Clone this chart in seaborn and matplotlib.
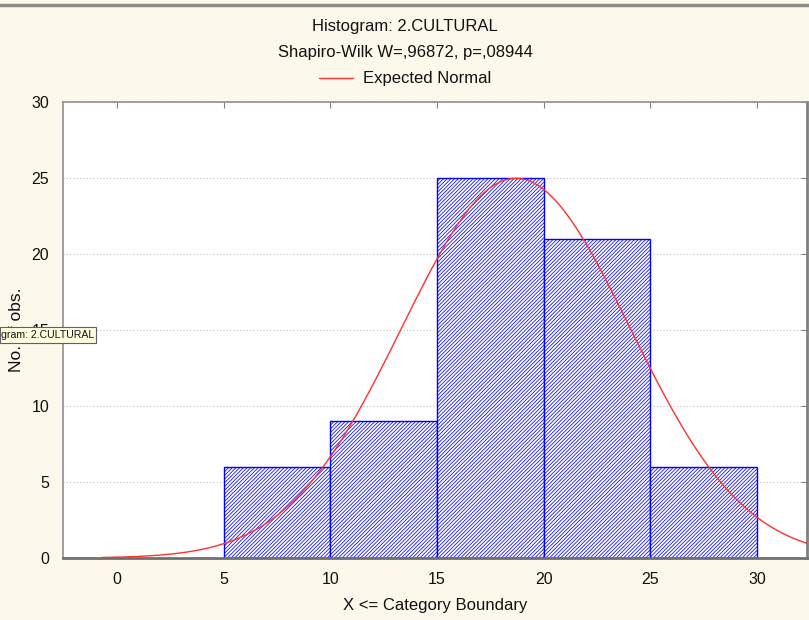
import numpy as np
import pandas as pd
import matplotlib
matplotlib.use("Agg")
import matplotlib.pyplot as plt
import seaborn as sns
from matplotlib.patches import Rectangle
from matplotlib.lines import Line2D

# ---- data ----
bin_edges = [5, 10, 15, 20, 25, 30]
counts = [6, 9, 25, 21, 6]
x_ticks = [0, 5, 10, 15, 20, 25, 30]
y_ticks = [0, 5, 10, 15, 20, 25, 30]
normal_mean = 18.7
normal_sd = 5.35
curve_start = -0.7
title_line1 = "Histogram: 2.CULTURAL"
title_line2 = "Shapiro-Wilk W=,96872, p=,08944"
legend_label = "Expected Normal"
x_label = "X <= Category Boundary"
y_label = "No. of obs."
tooltip_text = "gram: 2.CULTURAL"

# ---- style ----
sns.set_style("white")
plt.rcParams["font.family"] = ["Liberation Sans", "DejaVu Sans"]
plt.rcParams["hatch.linewidth"] = 0.55
plt.rcParams["hatch.color"] = "#2020FF"

W, H = 809, 620
BG = "#FDF8EC"
fig = plt.figure(figsize=(W / 100, H / 100), dpi=100, facecolor=BG)
ax = fig.add_axes([63 / W, 1 - 558 / H, (807 - 63) / W, (558 - 102) / H])
ax.set_facecolor("white")

centers = [(a + b) / 2 for a, b in zip(bin_edges[:-1], bin_edges[1:])]
df = pd.DataFrame({"x": centers, "count": counts})
sns.histplot(data=df, x="x", weights="count", bins=bin_edges, ax=ax,
             color="white", edgecolor="#0000FF", linewidth=1.0, alpha=1,
             zorder=2)
for p in ax.patches:
    p.set_facecolor("white")
    p.set_edgecolor("#0000FF")
    p.set_hatch("/////////")

# expected normal curve
n_total = sum(counts)
bw = bin_edges[1] - bin_edges[0]
xs = np.linspace(curve_start, 33, 400)
ys = n_total * bw / (normal_sd * np.sqrt(2 * np.pi)) * np.exp(-0.5 * ((xs - normal_mean) / normal_sd) ** 2)
sns.lineplot(x=xs, y=ys, ax=ax, color="#FF3030", linewidth=1.0, label=legend_label, zorder=3)

ax.set_xlim(-2.53, 32.35)
ax.set_ylim(0, 30)
ax.set_xticks(x_ticks)
ax.set_yticks(y_ticks)
ax.tick_params(axis="both", labelsize=11.5, direction="in",
               length=4, top=True, right=True, pad=10,
               colors="#808080", labelcolor="#111111")
ax.yaxis.grid(True, linestyle=(0, (1, 2)), color="#C0C0C0", linewidth=0.8)
ax.xaxis.grid(False)
ax.set_axisbelow(True)
for s in ["left", "top"]:
    ax.spines[s].set_color("#909090")
    ax.spines[s].set_linewidth(1.2)
ax.spines["right"].set_color("#808080")
ax.spines["right"].set_linewidth(2)
ax.spines["bottom"].set_color("#707070")
ax.spines["bottom"].set_linewidth(2)
ax.set_xlabel(x_label, fontsize=12, color="#111111", labelpad=8)
ax.set_ylabel("")

# legend at top
leg = ax.legend(loc="center", bbox_to_anchor=(405 / W, 1 - 79 / H),
                bbox_transform=fig.transFigure, frameon=False, fontsize=12,
                handlelength=2.0, handletextpad=0.6)
for t in leg.get_texts():
    t.set_color("#111111")

# titles
fig.text(405 / W, 1 - 27 / H, title_line1, ha="center", va="center", fontsize=12, color="#111111")
fig.text(405 / W, 1 - 53 / H, title_line2, ha="center", va="center", fontsize=12, color="#111111")

# y label (partly hidden by tooltip)
fig.text(17 / W, 1 - 330 / H, y_label, rotation=90, ha="center", va="center",
         fontsize=12.5, color="#111111", zorder=1)

# tooltip box
fig.add_artist(Rectangle((0, 1 - 343 / H), 96 / W, 16 / H, transform=fig.transFigure,
                         facecolor="#FFFFE1", edgecolor="#606060", linewidth=0.8, zorder=5))
fig.text(1 / W, 1 - 335 / H, tooltip_text, ha="left", va="center", fontsize=7.6,
         fontweight="medium", color="#111111", zorder=6)

# top border line
fig.add_artist(Line2D([0, 1], [1 - 5 / H, 1 - 5 / H], transform=fig.transFigure,
                      color="#8A8A8A", linewidth=2.5))

fig.savefig("out.png", dpi=100, facecolor=BG)
